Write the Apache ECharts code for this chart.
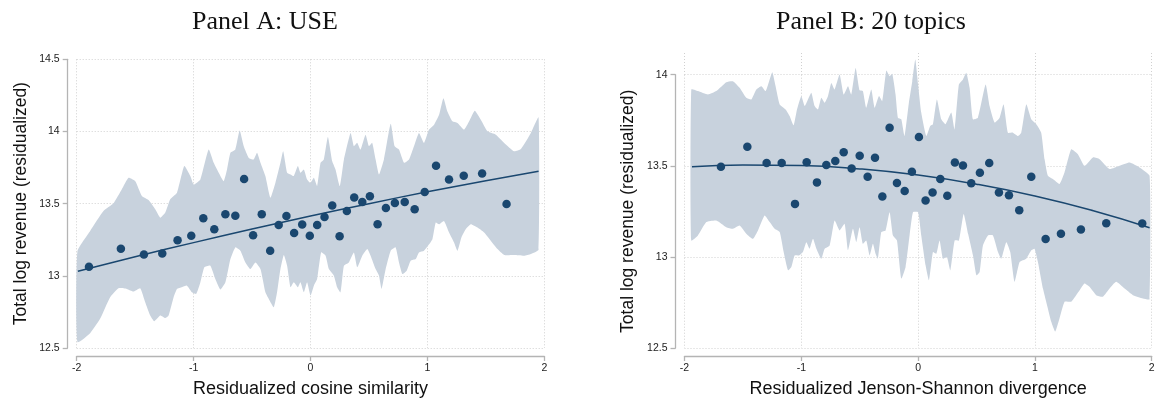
<!DOCTYPE html>
<html>
<head>
<meta charset="utf-8">
<script src="https://cdn.jsdelivr.net/npm/echarts@6/dist/echarts.min.js"></script>
<style>
html,body{margin:0;padding:0;background:#fff;}
#chart{width:1158px;height:403px;}
</style>
</head>
<body>
<div id="chart"></div>
<script>
// ---------- Data ----------
const titles = ['Panel A: USE', 'Panel B: 20 topics'];
const xNames = ['Residualized cosine similarity', 'Residualized Jenson-Shannon divergence'];
const yName = 'Total log revenue (residualized)';
const xTicksA = [-2, 2, 1];
const yTicksA = [12.5, 14.5, 0.5];
const xTicksB = [-2, 2, 1];
const yTicksB = [12.5, 14, 0.5];

const pointsA = [[-1.895,13.063],[-1.622,13.187],[-1.425,13.148],[-1.268,13.155],[-1.137,13.247],[-1.02,13.277],[-0.917,13.399],[-0.823,13.323],[-0.728,13.426],[-0.643,13.417],[-0.568,13.670],[-0.491,13.281],[-0.417,13.426],[-0.345,13.173],[-0.272,13.352],[-0.206,13.415],[-0.140,13.297],[-0.071,13.355],[-0.006,13.277],[0.057,13.352],[0.12,13.408],[0.186,13.488],[0.249,13.274],[0.311,13.449],[0.374,13.543],[0.443,13.511],[0.508,13.552],[0.574,13.357],[0.645,13.470],[0.722,13.504],[0.806,13.511],[0.891,13.461],[0.977,13.580],[1.074,13.762],[1.185,13.668],[1.311,13.693],[1.468,13.709],[1.677,13.497]];

const fitA = [[-1.99,13.031],[-1.5,13.132],[-1,13.230],[-0.5,13.324],[0,13.414],[0.5,13.500],[1,13.582],[1.5,13.659],[1.951,13.725]];

const upperA = [[-1.994,13.169],[-1.885,13.311],[-1.771,13.449],[-1.685,13.502],[-1.614,13.599],[-1.557,13.679],[-1.499,13.656],[-1.442,13.553],[-1.385,13.525],[-1.328,13.461],[-1.285,13.403],[-1.242,13.438],[-1.200,13.530],[-1.142,13.576],[-1.080,13.760],[-1.028,13.691],[-1.000,13.633],[-0.942,13.668],[-0.871,13.875],[-0.828,13.783],[-0.785,13.714],[-0.743,13.656],[-0.714,13.737],[-0.685,13.852],[-0.643,13.875],[-0.606,14.006],[-0.571,13.898],[-0.528,13.817],[-0.486,13.806],[-0.457,13.852],[-0.428,13.783],[-0.386,13.691],[-0.343,13.541],[-0.300,13.645],[-0.257,13.783],[-0.234,13.863],[-0.200,13.714],[-0.171,13.702],[-0.143,13.691],[-0.108,13.760],[-0.086,13.714],[-0.057,13.737],[-0.029,13.668],[0.000,13.645],[0.029,13.679],[0.057,13.622],[0.086,13.783],[0.114,13.806],[0.149,13.962],[0.186,13.794],[0.214,13.737],[0.251,13.622],[0.286,13.806],[0.343,13.990],[0.371,13.898],[0.400,13.921],[0.428,13.875],[0.471,13.978],[0.500,13.898],[0.528,13.921],[0.557,13.806],[0.586,13.702],[0.628,13.806],[0.686,14.054],[0.720,13.898],[0.757,13.875],[0.800,13.783],[0.843,13.806],[0.885,13.898],[0.928,13.990],[0.971,13.921],[1.014,14.013],[1.057,14.047],[1.100,14.116],[1.137,14.231],[1.171,14.139],[1.214,14.070],[1.257,14.059],[1.314,14.013],[1.357,14.070],[1.405,14.144],[1.457,14.082],[1.514,14.001],[1.585,13.978],[1.657,13.921],[1.742,13.863],[1.800,13.879],[1.885,13.990],[1.951,14.098]];

const lowerA = [[-1.994,12.541],[-1.885,12.603],[-1.800,12.702],[-1.714,12.852],[-1.642,12.914],[-1.571,12.909],[-1.514,12.891],[-1.457,12.914],[-1.414,12.817],[-1.371,12.725],[-1.337,12.686],[-1.285,12.725],[-1.242,12.707],[-1.214,12.725],[-1.171,12.852],[-1.142,12.909],[-1.100,12.921],[-1.057,12.932],[-1.014,12.886],[-0.977,12.875],[-0.942,12.955],[-0.908,13.059],[-0.857,13.070],[-0.814,12.978],[-0.771,12.905],[-0.728,12.955],[-0.685,13.116],[-0.643,13.197],[-0.600,13.174],[-0.557,13.093],[-0.514,13.047],[-0.471,13.093],[-0.428,13.047],[-0.386,12.886],[-0.357,12.840],[-0.314,12.783],[-0.286,12.886],[-0.257,13.047],[-0.228,13.144],[-0.200,13.070],[-0.171,12.921],[-0.143,12.955],[-0.108,12.921],[-0.086,12.955],[-0.057,12.886],[-0.029,12.955],[0.000,12.863],[0.029,12.932],[0.057,12.978],[0.091,13.162],[0.129,13.139],[0.157,13.047],[0.200,13.001],[0.228,12.921],[0.257,12.886],[0.286,13.070],[0.328,13.093],[0.371,13.162],[0.400,13.059],[0.443,13.139],[0.486,13.185],[0.514,13.139],[0.557,13.047],[0.586,13.001],[0.608,12.909],[0.643,13.047],[0.686,13.174],[0.728,13.197],[0.757,13.093],[0.786,13.013],[0.823,13.036],[0.857,13.105],[0.900,13.116],[0.928,13.162],[0.971,13.174],[1.005,13.208],[1.043,13.254],[1.071,13.369],[1.100,13.357],[1.142,13.380],[1.185,13.300],[1.228,13.231],[1.257,13.174],[1.291,13.266],[1.328,13.323],[1.371,13.357],[1.428,13.334],[1.485,13.300],[1.542,13.243],[1.600,13.185],[1.657,13.144],[1.742,13.144],[1.828,13.139],[1.885,13.151],[1.951,13.180]];

const pointsB = [[-1.688,13.495],[-1.462,13.604],[-1.297,13.516],[-1.168,13.516],[-1.054,13.291],[-0.954,13.520],[-0.866,13.409],[-0.786,13.505],[-0.709,13.527],[-0.637,13.575],[-0.569,13.485],[-0.500,13.555],[-0.432,13.440],[-0.369,13.544],[-0.306,13.331],[-0.244,13.709],[-0.181,13.405],[-0.115,13.362],[-0.053,13.467],[0.007,13.658],[0.064,13.309],[0.124,13.353],[0.190,13.427],[0.250,13.336],[0.315,13.518],[0.384,13.502],[0.455,13.404],[0.529,13.462],[0.609,13.515],[0.692,13.353],[0.778,13.338],[0.866,13.256],[0.969,13.440],[1.092,13.098],[1.223,13.127],[1.394,13.150],[1.611,13.185],[1.919,13.183]];

const fitB = [[-1.936,13.495],[-1.5,13.505],[-1,13.502],[-0.5,13.483],[0,13.449],[0.5,13.399],[1,13.334],[1.5,13.253],[1.982,13.160]];

const upperB = [[-1.942,13.919],[-1.885,13.910],[-1.799,13.891],[-1.728,13.910],[-1.642,13.959],[-1.585,13.964],[-1.528,13.928],[-1.471,13.873],[-1.428,13.864],[-1.385,13.919],[-1.342,13.937],[-1.305,13.910],[-1.271,13.973],[-1.248,14.013],[-1.220,13.937],[-1.185,13.837],[-1.134,13.809],[-1.100,13.773],[-1.066,13.722],[-1.037,13.809],[-1.000,13.882],[-0.971,13.828],[-0.943,13.864],[-0.914,13.901],[-0.886,13.828],[-0.857,13.809],[-0.829,13.873],[-0.800,13.846],[-0.772,13.882],[-0.743,13.955],[-0.715,13.919],[-0.672,14.001],[-0.637,13.891],[-0.600,13.937],[-0.572,13.891],[-0.535,14.037],[-0.501,13.914],[-0.473,13.910],[-0.444,13.819],[-0.401,13.919],[-0.372,13.819],[-0.335,13.883],[-0.307,13.855],[-0.272,14.023],[-0.244,13.992],[-0.221,14.005],[-0.193,13.892],[-0.173,13.764],[-0.144,13.755],[-0.116,13.664],[-0.079,13.846],[-0.050,13.964],[-0.024,14.083],[0.0,13.946],[0.027,13.792],[0.070,13.664],[0.104,13.719],[0.127,13.728],[0.161,13.864],[0.199,13.755],[0.235,13.728],[0.284,13.792],[0.312,13.700],[0.349,13.946],[0.384,13.974],[0.413,14.010],[0.441,13.928],[0.469,13.755],[0.512,13.764],[0.578,13.946],[0.612,13.828],[0.655,13.737],[0.698,13.764],[0.732,13.837],[0.769,13.682],[0.812,13.682],[0.855,13.664],[0.883,13.682],[0.926,13.837],[0.969,13.755],[1.012,13.728],[1.054,13.682],[1.083,13.536],[1.111,13.445],[1.154,13.427],[1.211,13.400],[1.254,13.464],[1.311,13.591],[1.368,13.564],[1.425,13.500],[1.497,13.546],[1.554,13.536],[1.639,13.482],[1.725,13.500],[1.811,13.518],[1.896,13.491],[1.982,13.445]];

const lowerB = [[-1.942,13.090],[-1.885,13.118],[-1.813,13.191],[-1.728,13.200],[-1.642,13.163],[-1.585,13.154],[-1.528,13.172],[-1.471,13.127],[-1.414,13.099],[-1.371,13.145],[-1.314,13.227],[-1.271,13.191],[-1.228,13.154],[-1.185,13.136],[-1.151,13.027],[-1.114,12.927],[-1.085,12.945],[-1.057,13.008],[-1.020,13.008],[-0.986,13.027],[-0.957,13.081],[-0.929,13.045],[-0.900,13.099],[-0.871,13.045],[-0.829,12.990],[-0.800,13.045],[-0.757,13.063],[-0.715,13.200],[-0.672,13.145],[-0.629,13.181],[-0.600,13.036],[-0.558,13.154],[-0.529,13.081],[-0.501,13.163],[-0.473,13.072],[-0.444,13.090],[-0.415,13.008],[-0.387,13.072],[-0.364,13.017],[-0.344,12.990],[-0.315,13.136],[-0.278,13.145],[-0.244,13.245],[-0.215,13.117],[-0.181,13.090],[-0.144,12.881],[-0.107,12.945],[-0.073,13.117],[-0.044,13.245],[0.0,13.245],[0.027,13.117],[0.064,12.954],[0.093,12.872],[0.127,13.027],[0.156,13.017],[0.184,13.090],[0.213,12.990],[0.247,12.999],[0.276,12.926],[0.313,13.090],[0.350,13.090],[0.390,13.236],[0.428,13.127],[0.470,13.008],[0.499,12.899],[0.527,12.917],[0.555,13.063],[0.598,13.118],[0.641,13.118],[0.684,13.027],[0.712,12.990],[0.755,13.081],[0.789,13.027],[0.826,12.863],[0.869,12.972],[0.926,12.990],[0.969,13.036],[0.997,13.045],[1.026,12.972],[1.069,12.826],[1.111,12.717],[1.140,12.644],[1.174,12.590],[1.211,12.663],[1.254,12.754],[1.311,12.754],[1.383,12.817],[1.425,12.854],[1.468,12.836],[1.525,12.790],[1.582,12.781],[1.639,12.826],[1.696,12.863],[1.768,12.826],[1.839,12.790],[1.925,12.772],[1.982,12.768]];

// ---------- Styles ----------
const NAVY = '#1a476f';
const BAND = '#c8d2dd';
const AXIS = '#b4b4b4';
const GRIDC = '#d0d0d0';
const SANS = '"Liberation Sans", Arial, Helvetica, sans-serif';
const SERIF = '"Liberation Serif", "DejaVu Serif", serif';

const chart = echarts.init(document.getElementById('chart'), null, {renderer: 'canvas'});

function xAxisCfg(ticks, name, gridIndex) {
  return {
    type: 'value', gridIndex: gridIndex, min: ticks[0], max: ticks[1], interval: ticks[2],
    offset: 8,
    axisLine: {show: true, onZero: false, lineStyle: {color: AXIS, width: 1.3}},
    axisTick: {show: true, length: 5, lineStyle: {color: AXIS, width: 1.3}},
    axisLabel: {color: '#222', fontSize: 10.5, fontFamily: SANS, margin: 7},
    splitLine: {show: true, lineStyle: {color: GRIDC, type: [1, 2], width: 1}},
    name: name, nameLocation: 'middle', nameGap: 24,
    nameTextStyle: {color: '#111', fontSize: 18, fontFamily: SANS}
  };
}
function yAxisCfg(ticks, gridIndex) {
  return {
    type: 'value', gridIndex: gridIndex, min: ticks[0], max: ticks[1], interval: ticks[2],
    offset: 9,
    axisLine: {show: true, onZero: false, lineStyle: {color: AXIS, width: 1.3}},
    axisTick: {show: true, length: 5, lineStyle: {color: AXIS, width: 1.3}},
    axisLabel: {color: '#222', fontSize: 10.5, fontFamily: SANS, margin: 8},
    splitLine: {show: true, lineStyle: {color: GRIDC, type: [1, 2], width: 1}},
    name: yName, nameLocation: 'middle', nameGap: 38,
    nameTextStyle: {color: '#111', fontSize: 17.5, fontFamily: SANS}
  };
}

function bandSeries(upper, lower, idx) {
  return {
    type: 'custom', xAxisIndex: idx, yAxisIndex: idx, clip: false, z: 1,
    data: [[0, 13.5]],
    silent: true,
    renderItem: function (params, api) {
      const pts = upper.map(p => api.coord(p)).concat(lower.slice().reverse().map(p => api.coord(p)));
      return {type: 'polygon', shape: {points: pts, smooth: 0.15}, style: {fill: BAND}};
    }
  };
}
function fitSeries(fit, idx) {
  return {type: 'line', xAxisIndex: idx, yAxisIndex: idx, data: fit, smooth: true, showSymbol: false, z: 3,
    lineStyle: {color: NAVY, width: 1.5}, silent: true};
}
function pointSeries(pts, idx) {
  return {type: 'scatter', xAxisIndex: idx, yAxisIndex: idx, data: pts, symbolSize: 8.5, z: 4,
    itemStyle: {color: NAVY, opacity: 1}, silent: true};
}

const option = {
  animation: false,
  backgroundColor: '#fff',
  title: [
    {text: titles[0], left: 260, top: 4, textAlign: 'center',
      textStyle: {fontFamily: SERIF, fontSize: 26, fontWeight: 'normal', color: '#111'}},
    {text: titles[1], left: 866, top: 4, textAlign: 'center',
      textStyle: {fontFamily: SERIF, fontSize: 26, fontWeight: 'normal', color: '#111'}}
  ],
  grid: [
    {left: 76.7, right: 613.7, top: 59.3, bottom: 53.7},
    {left: 684.5, right: 6.3, top: 74.7, bottom: 53.7},
    {left: 684.5, right: 6.3, top: 53, height: 21.7}
  ],
  xAxis: [
    xAxisCfg(xTicksA, xNames[0], 0),
    xAxisCfg(xTicksB, xNames[1], 1),
    {type: 'value', gridIndex: 2, min: xTicksB[0], max: xTicksB[1], interval: xTicksB[2],
      axisLine: {show: false}, axisTick: {show: false}, axisLabel: {show: false},
      splitLine: {show: true, lineStyle: {color: GRIDC, type: [1, 2], width: 1}}}
  ],
  yAxis: [
    yAxisCfg(yTicksA, 0),
    yAxisCfg(yTicksB, 1),
    {type: 'value', gridIndex: 2, min: 0, max: 1, show: false, splitLine: {show: false}}
  ],
  series: [
    bandSeries(upperA, lowerA, 0),
    fitSeries(fitA, 0),
    pointSeries(pointsA, 0),
    bandSeries(upperB, lowerB, 1),
    fitSeries(fitB, 1),
    pointSeries(pointsB, 1)
  ]
};
chart.setOption(option);
</script>
</body>
</html>
